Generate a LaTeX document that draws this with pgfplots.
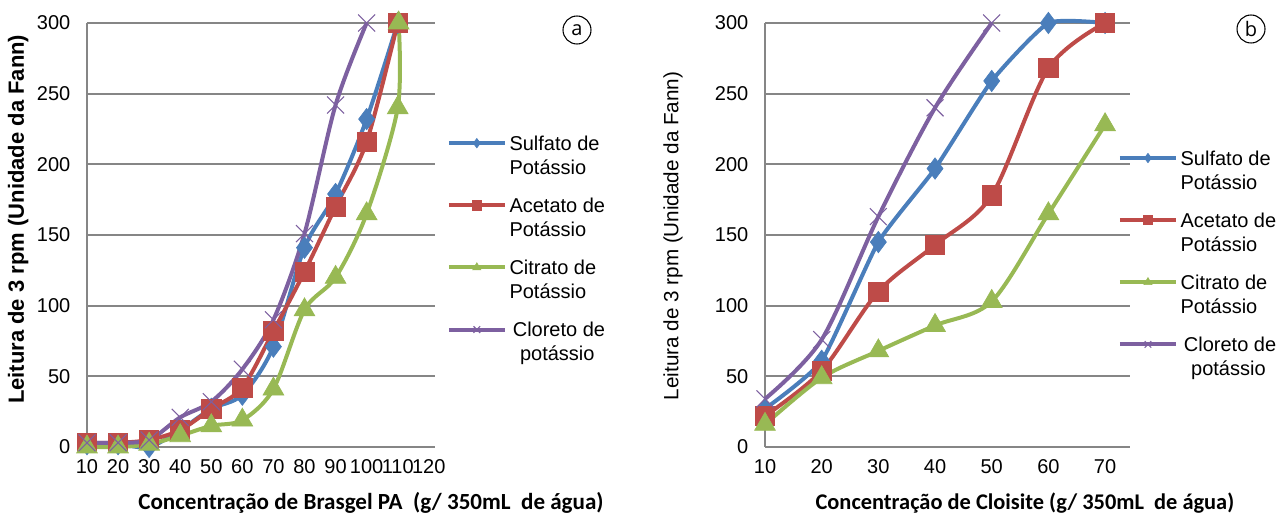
\documentclass[border=0pt]{standalone}
\usepackage{pgfplots}
\pgfplotsset{compat=1.18}
\usepackage{fontspec}
\setmainfont{Liberation Sans}
\newfontfamily\calibri{Carlito}
\newfontfamily\opensans{Open Sans}
\definecolor{cblue}{HTML}{4A7EBB}
\definecolor{cred}{HTML}{BE4B48}
\definecolor{cgreen}{HTML}{98B954}
\definecolor{cpurple}{HTML}{7D60A0}
\definecolor{cgrid}{HTML}{868686}
\pgfplotsset{
  myaxis/.style={
    scale only axis,
    axis lines=left,
    axis line style={-, cgrid, line width=1.4pt},
    ymin=0, ymax=300, ytick={0,50,...,300},
    ymajorgrids, grid style={cgrid, line width=1.3pt},
    major tick length=0pt,
    ticklabel style={font=\fontsize{15}{18}\selectfont},
    /pgf/number format/assume math mode=true,
    yticklabel style={xshift=-9pt},
    xticklabel style={yshift=-6pt},
    clip=false,
    every axis plot/.append style={line width=3pt, smooth, tension=0.5},
    legend style={draw=none, fill=none, font=\fontsize{15}{18}\selectfont,
      anchor=north west, row sep=28.5pt, inner sep=0pt, outer sep=0pt,
      cells={anchor=west}},
    legend cell align=left,
    legend image code/.code={\draw[mark repeat=2, mark phase=2, mark size=3.5pt] plot coordinates {(0pt,0pt) (21pt,0pt) (42pt,0pt)};},
  },
  sblue/.style={color=cblue, mark=diamond*, mark size=8pt, mark options={solid, line width=0.5pt}},
  sred/.style={color=cred, mark=square*, mark size=7.2pt, mark options={solid, line width=0.5pt}},
  sgreen/.style={color=cgreen, mark=triangle*, mark size=9pt, mark options={solid, line width=0.5pt}},
  spurple/.style={color=cpurple, mark=x, mark size=9pt, mark options={solid, line width=0.8pt}},
}
\begin{document}
\begin{tikzpicture}
\useasboundingbox (0,0) rectangle (957.75pt,384.75pt);
% ---------------- panel a ----------------
\begin{axis}[myaxis,
  at={(65.25pt,49.5pt)}, anchor=south west,
  width=261pt, height=318pt,
  xmin=10, xmax=122, xtick={10,20,...,120},
  ylabel={\bfseries Leitura de 3 rpm (Unidade da Fann)},
  ylabel style={at={(axis description cs:-0.198,0.537)}, anchor=center, font=\fontsize{16.5}{18}\selectfont},
  xlabel={\calibri\bfseries Concentração de Brasgel PA\ \ (g/ 350mL\ \ de água)},
  xlabel style={at={(axis description cs:0.816,-0.132)}, anchor=center, font=\fontsize{17.3}{18}\selectfont},
  legend style={at={(axis description cs:1.034,0.745)}},
]
\addplot[sblue] coordinates {(10,2)(20,2)(30,0)(40,12)(50,27)(60,37)(70,71)(80,141)(90,179)(100,232)(110,300)};
\addlegendentry{\begin{tabular}[t]{@{}l@{}}Sulfato de\\Potássio\end{tabular}}
\addplot[sred] coordinates {(10,3)(20,3)(30,5)(40,12)(50,27)(60,42)(70,82)(80,124)(90,170)(100,216)(110,300)};
\addlegendentry{\begin{tabular}[t]{@{}l@{}}Acetato de\\Potássio\end{tabular}}
\addplot[sgreen] coordinates {(10,0)(20,0)(30,2)(40,8)(50,15)(60,19)(70,41)(80,97)(90,120)(100,165)(110,240)(110.3,300)};
\addlegendentry{\begin{tabular}[t]{@{}l@{}}Citrato de\\Potássio\end{tabular}}
\addplot[spurple] coordinates {(10,3)(20,3)(30,5)(40,21)(50,32)(60,55)(70,90)(80,151)(90,242)(100,300)};
\addlegendentry{\begin{tabular}[t]{@{}c@{}}\,Cloreto de\\potássio\end{tabular}}
\end{axis}
% ---------------- panel b ----------------
\begin{axis}[myaxis,
  at={(573.75pt,49.5pt)}, anchor=south west,
  width=273.75pt, height=318pt,
  xmin=10, xmax=74.4, xtick={10,20,...,70},
  ylabel={Leitura de 3 rpm (Unidade da Fann)},
  ylabel style={at={(axis description cs:-0.252,0.498)}, anchor=center, font=\fontsize{15.5}{18}\selectfont},
  xlabel={\calibri\bfseries Concentração de Cloisite (g/ 350mL\ \ de água)},
  xlabel style={at={(axis description cs:0.712,-0.132)}, anchor=center, font=\fontsize{16.8}{18}\selectfont},
  legend style={at={(axis description cs:0.967,0.71)}},
]
\addplot[sblue, tension=0.3] coordinates {(10,27)(20,61)(30,145)(40,197)(50,259)(60,300)(70,300)};
\addlegendentry{\begin{tabular}[t]{@{}l@{}}Sulfato de\\Potássio\end{tabular}}
\addplot[sred] coordinates {(10,22)(20,54)(30,110)(40,143)(50,178)(60,268)(70,300)};
\addlegendentry{\begin{tabular}[t]{@{}l@{}}Acetato de\\Potássio\end{tabular}}
\addplot[sgreen] coordinates {(10,16)(20,49)(30,68)(40,86)(50,103)(60,165)(70,228)};
\addlegendentry{\begin{tabular}[t]{@{}l@{}}Citrato de\\Potássio\end{tabular}}
\addplot[spurple] coordinates {(10,34)(20,76)(30,163)(40,240)(50,300)};
\addlegendentry{\begin{tabular}[t]{@{}c@{}}\,Cloreto de\\potássio\end{tabular}}
\end{axis}
% circled panel letters
\node[draw, circle, line width=0.8pt, minimum size=21pt, inner sep=0pt] at (432.75pt,362.25pt) {\opensans\fontsize{15}{15}\selectfont a};
\node[draw, circle, line width=0.8pt, minimum size=21pt, inner sep=0pt] at (938.25pt,363pt) {\opensans\fontsize{15}{15}\selectfont b};
\end{tikzpicture}
\end{document}
